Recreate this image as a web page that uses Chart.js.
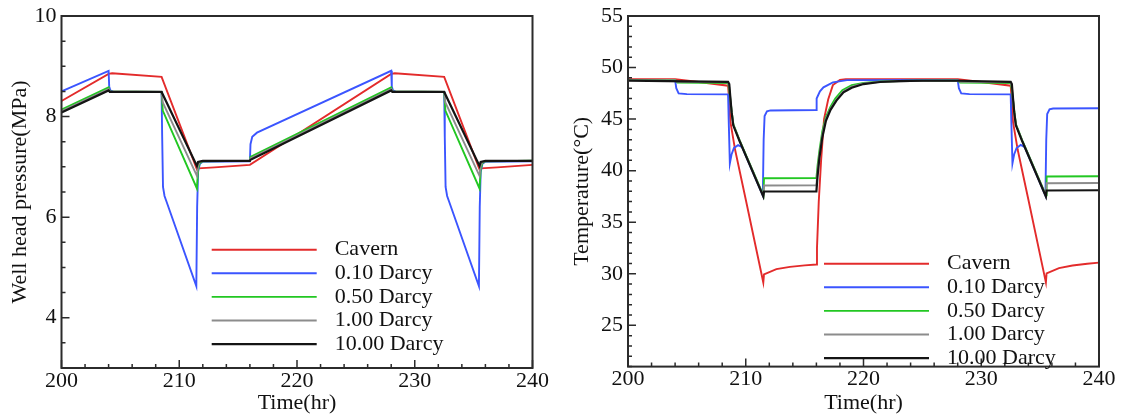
<!DOCTYPE html>
<html>
<head>
<meta charset="utf-8">
<title>Well head pressure and temperature</title>
<script src="https://cdn.jsdelivr.net/npm/chart.js@4.4.1/dist/chart.umd.min.js"></script>
<style>
  body { margin: 0; background: #fff; }
  #wrap { position: relative; width: 1125px; height: 418px; }
  #pressure { position: absolute; left: 0; top: 0; }
  #temperature { position: absolute; left: 560px; top: 0; }
</style>
</head>
<body>
<div id="wrap">
  <canvas id="pressure" width="560" height="418"></canvas>
  <canvas id="temperature" width="565" height="418"></canvas>
</div>
<script>
const seriesLabels = ['Cavern', '0.10 Darcy', '0.50 Darcy', '1.00 Darcy', '10.00 Darcy'];
const timeTicks = [200, 210, 220, 230, 240];
const pressureTicks = [4, 6, 8, 10];
const temperatureTicks = [25, 30, 35, 40, 45, 50, 55];

// well head pressure (MPa) vs time (hr)
const pressureCavern = [[200, 8.31], [204, 8.85], [204.3, 8.86], [208.5, 8.79], [211.5, 6.95], [211.6, 6.97], [213, 6.99], [216, 7.04],
  [228, 8.85], [228.3, 8.86], [232.5, 8.79], [235.5, 6.95], [235.6, 6.97], [237, 6.99], [240, 7.04]];
const pressure010 = [[200, 8.50], [204, 8.91], [204.05, 8.6], [204.15, 8.52], [204.4, 8.49], [208.5, 8.49], [208.55, 7.6], [208.62, 6.6],
  [208.75, 6.42], [208.9, 6.32], [211.45, 4.63], [211.52, 6.2], [211.6, 6.9], [211.75, 7.06], [212, 7.1], [216, 7.11],
  [216.05, 7.45], [216.2, 7.6], [216.6, 7.68], [228, 8.91], [228.05, 8.6], [228.15, 8.52], [228.4, 8.49], [232.5, 8.49],
  [232.55, 7.6], [232.62, 6.6], [232.75, 6.42], [232.9, 6.32], [235.45, 4.63], [235.52, 6.2], [235.6, 6.9], [235.75, 7.06],
  [236, 7.1], [240, 7.11]];
const pressure050 = [[200, 8.14], [204, 8.58], [204.1, 8.5], [208.5, 8.49], [208.6, 8.12], [211.5, 6.57], [211.6, 6.95], [211.75, 7.08],
  [212, 7.11], [216, 7.12], [216.05, 7.2], [228, 8.58], [228.1, 8.5], [232.5, 8.49], [232.6, 8.12], [235.5, 6.57],
  [235.6, 6.95], [235.75, 7.08], [236, 7.11], [240, 7.12]];
const pressure100 = [[200, 8.11], [204, 8.55], [204.1, 8.5], [208.5, 8.49], [208.6, 8.28], [211.5, 6.82], [211.6, 7.02], [211.75, 7.1],
  [212, 7.11], [216, 7.12], [216.05, 7.17], [228, 8.55], [228.1, 8.5], [232.5, 8.49], [232.6, 8.28], [235.5, 6.82],
  [235.6, 7.02], [235.75, 7.1], [236, 7.11], [240, 7.12]];
const pressure1000 = [[200, 8.08], [204, 8.52], [204.1, 8.49], [208.5, 8.49], [211.5, 7.02], [211.6, 7.1], [212, 7.12], [216, 7.12],
  [216.05, 7.14], [228, 8.52], [228.1, 8.49], [232.5, 8.49], [235.5, 7.02], [235.6, 7.1], [236, 7.12], [240, 7.12]];

// temperature (degC) vs time (hr)
const tempCavern = [[200, 48.87], [204, 48.87], [206, 48.6], [208.5, 48.24], [208.6, 46.6], [208.7, 44.7], [209.1, 42.0], [210, 37.2],
  [211.49, 29.16], [211.55, 29.95], [212.6, 30.45], [213.75, 30.67], [215, 30.82], [216, 30.9], [216.05, 32.5], [216.2, 37.0],
  [216.4, 41.0], [216.65, 45.0], [217, 46.9], [217.4, 48.3], [218, 48.8], [218.5, 48.87], [228, 48.87], [230, 48.6],
  [232.5, 48.24], [232.6, 46.6], [232.7, 44.7], [233.1, 42.0], [234, 37.2], [235.49, 29.16], [235.55, 30.05], [236.6, 30.55],
  [237.75, 30.8], [239, 30.98], [240, 31.08]];
const temp010 = [[200, 48.8], [204, 48.8], [204.1, 48.0], [204.3, 47.5], [205, 47.42], [208.5, 47.4], [208.55, 45.0], [208.65, 40.7],
  [208.8, 41.6], [209.0, 42.2], [209.35, 42.47], [209.7, 42.27], [211.45, 37.6], [211.52, 43.0], [211.6, 45.3], [211.8, 45.75],
  [212.1, 45.84], [216, 45.88], [216.02, 47.0], [216.3, 47.7], [216.6, 48.08], [217.4, 48.56], [218.6, 48.78], [228, 48.8],
  [228.1, 48.0], [228.3, 47.5], [229, 47.42], [232.5, 47.4], [232.55, 45.0], [232.65, 40.7], [232.8, 41.6], [233.0, 42.2],
  [233.35, 42.5], [233.7, 42.27], [235.45, 37.6], [235.52, 43.0], [235.6, 45.5], [235.8, 45.95], [236.1, 46.03], [240, 46.05]];
const temp050 = [[200, 48.8], [204, 48.8], [204.2, 48.55], [208.5, 48.49], [208.6, 47.8], [208.8, 45.8], [208.95, 44.5], [209.5, 42.9],
  [211.5, 37.6], [211.55, 39.26], [216, 39.28], [216.1, 40.5], [216.25, 41.9], [216.5, 43.8], [216.8, 45.2], [217.2, 46.2],
  [217.6, 47.0], [218.2, 47.8], [219, 48.3], [220, 48.5], [221.4, 48.65], [224, 48.72], [228, 48.75], [228.2, 48.55],
  [232.5, 48.49], [232.6, 47.8], [232.8, 45.8], [232.95, 44.5], [233.5, 42.9], [235.5, 37.6], [235.55, 39.44], [240, 39.46]];
const temp100 = [[200, 48.78], [204, 48.78], [204.2, 48.62], [208.5, 48.56], [208.6, 48.1], [208.8, 45.7], [208.94, 44.45], [209.5, 42.85],
  [211.49, 37.55], [211.55, 38.56], [216, 38.58], [216.1, 40.0], [216.25, 41.5], [216.5, 43.5], [216.8, 45.0], [217.2, 46.0],
  [217.7, 46.9], [218.3, 47.7], [219, 48.15], [220, 48.45], [221.4, 48.62], [224, 48.7], [228, 48.74], [228.2, 48.62],
  [232.5, 48.56], [232.6, 48.1], [232.8, 45.7], [232.94, 44.45], [233.5, 42.85], [235.49, 37.55], [235.55, 38.78], [240, 38.8]];
const temp1000 = [[200, 48.74], [208.5, 48.62], [208.6, 48.4], [208.7, 47.0], [208.8, 45.67], [208.94, 44.4], [209.5, 42.8], [211.49, 37.5],
  [211.55, 37.98], [216, 38.0], [216.1, 39.5], [216.25, 41.2], [216.5, 43.2], [216.8, 44.8], [217.2, 45.9], [217.7, 46.8],
  [218.3, 47.6], [219, 48.05], [220, 48.4], [221.4, 48.6], [223, 48.68], [225, 48.72], [228, 48.72], [232.5, 48.62],
  [232.6, 48.4], [232.7, 47.0], [232.8, 45.67], [232.94, 44.4], [233.5, 42.8], [235.49, 37.5], [235.55, 38.08], [240, 38.1]];

const lineColors = ['#e32b2b', '#3b55ff', '#22c722', '#8c8c8c', '#141414'];
const FONT = '"Liberation Serif", "Times New Roman", serif';

// box frame, inward tick marks and the legend are drawn by hand (Tecplot look)
const framePlugin = {
  id: 'frame',
  afterDraw(chart, args, opts) {
    const { ctx, chartArea: a, scales: { x, y } } = chart;
    ctx.save();
    ctx.strokeStyle = '#2b2b2b';
    ctx.lineWidth = 2;
    ctx.strokeRect(a.left, a.top, a.right - a.left, a.bottom - a.top);

    ctx.lineWidth = 1.5;
    ctx.beginPath();
    const isMajor = (ticks, v) => ticks.some(t => Math.abs(t.value - v) < 1e-6);
    const nx = Math.round((x.max - x.min) / opts.xMinor);
    for (let i = 0; i <= nx; i++) {
      const v = x.min + i * opts.xMinor;
      const px = x.getPixelForValue(v);
      const len = isMajor(x.ticks, v) ? 8 : 4;
      ctx.moveTo(px, a.bottom);
      ctx.lineTo(px, a.bottom - len);
    }
    const y0 = Math.ceil(y.min / opts.yMinor) * opts.yMinor;
    const ny = Math.round((y.max - y0) / opts.yMinor);
    for (let i = 0; i <= ny; i++) {
      const v = y0 + i * opts.yMinor;
      const py = y.getPixelForValue(v);
      const len = isMajor(y.ticks, v) ? 8 : 4;
      ctx.moveTo(a.left, py);
      ctx.lineTo(a.left + len, py);
    }
    ctx.stroke();

    ctx.font = '22px ' + FONT;
    ctx.textBaseline = 'middle';
    ctx.textAlign = 'left';
    ctx.fillStyle = '#111';
    chart.data.datasets.forEach((ds, i) => {
      const lx = a.left + opts.legendX;
      const ly = a.top + opts.legendY + i * 23.6;
      ctx.strokeStyle = ds.borderColor;
      ctx.lineWidth = ds.borderWidth;
      ctx.beginPath();
      ctx.moveTo(lx, ly);
      ctx.lineTo(lx + 105, ly);
      ctx.stroke();
      ctx.fillText(ds.label, lx + 123, ly);
    });
    ctx.restore();
  }
};

function makeChart(id, series, yCfg) {
  const datasets = series.map((data, i) => ({
    label: seriesLabels[i],
    data: data,
    borderColor: lineColors[i],
    borderWidth: i === 4 ? 2.2 : 1.9,
    pointRadius: 0,
    fill: false,
    order: series.length - i
  }));

  return new Chart(document.getElementById(id), {
    type: 'line',
    data: { datasets },
    plugins: [framePlugin],
    options: {
      responsive: false,
      animation: false,
      devicePixelRatio: 1,
      layout: { padding: yCfg.padding },
      plugins: {
        legend: { display: false },
        tooltip: { enabled: false },
        frame: { xMinor: 2, yMinor: yCfg.minor, legendX: yCfg.legendX, legendY: yCfg.legendY }
      },
      scales: {
        x: {
          type: 'linear',
          min: 200,
          max: 240,
          afterBuildTicks: s => { s.ticks = timeTicks.map(v => ({ value: v })); },
          afterFit: s => { s.height = yCfg.xHeight; },
          grid: { display: false, drawTicks: false },
          border: { display: false },
          ticks: { color: '#111', padding: 2, maxRotation: 0, font: { family: FONT, size: 22, lineHeight: 1 } },
          title: { display: true, text: 'Time(hr)', color: '#111', padding: { top: 0, bottom: 2 }, font: { family: FONT, size: 22 } }
        },
        y: {
          min: yCfg.min,
          max: yCfg.max,
          afterBuildTicks: s => { s.ticks = yCfg.ticks.map(v => ({ value: v })); },
          afterFit: s => { s.width = yCfg.yWidth; },
          grid: { display: false, drawTicks: false },
          border: { display: false },
          ticks: { color: '#111', padding: 5, font: { family: FONT, size: 22, lineHeight: 1 } },
          title: { display: true, text: yCfg.title, color: '#111', padding: { top: yCfg.titlePad, bottom: 0 }, font: { family: FONT, size: 22 } }
        }
      }
    }
  });
}

makeChart('pressure', [pressureCavern, pressure010, pressure050, pressure100, pressure1000], {
  min: 3, max: 10, ticks: pressureTicks, minor: 0.5, title: 'Well head pressure(MPa)',
  padding: { left: 0, top: 12, right: 27.5, bottom: 0 }, yWidth: 61.5, xHeight: 50, titlePad: 7,
  legendX: 150.2, legendY: 233.7
});

makeChart('temperature', [tempCavern, temp010, temp050, temp100, temp1000], {
  min: 21, max: 55, ticks: temperatureTicks, minor: 1, title: 'Temperature(°C)',
  padding: { left: 0, top: 13, right: 26, bottom: 0 }, yWidth: 68, xHeight: 51.4, titlePad: 9,
  legendX: 196, legendY: 247.7
});
</script>
</body>
</html>
